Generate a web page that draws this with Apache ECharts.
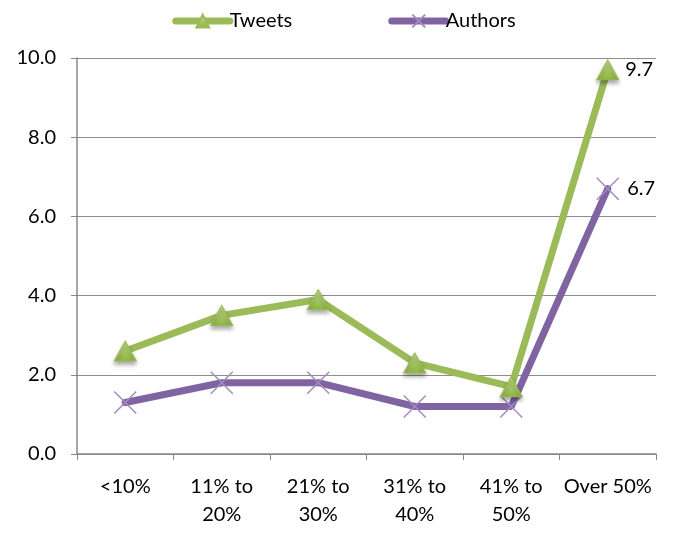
<!DOCTYPE html>
<html>
<head>
<meta charset="utf-8">
<script src="https://cdn.jsdelivr.net/npm/echarts@6/dist/echarts.min.js"></script>
<style>html,body{margin:0;padding:0;background:#fff;}#c{width:688px;height:533px;}</style>
</head>
<body>
<div id="c"></div>
<script>
var categories = ['<10%', '11% to\n20%', '21% to\n30%', '31% to\n40%', '41% to\n50%', 'Over 50%'];
var tweets = [2.6, 3.5, 3.9, 2.3, 1.7, 9.7];
var authors = [1.3, 1.8, 1.8, 1.2, 1.2, 6.7];
var yTicks = { min: 0, max: 10, interval: 2 };

var FONT = 'Lato, "Open Sans", sans-serif';
var chart = echarts.init(document.getElementById('c'));
var crossPath = 'path://M0,0L10,10M10,0L0,10';

function lastLabel(arr) {
  return arr.map(function (v, i) {
    if (i === arr.length - 1) {
      return { value: v, label: { show: true, position: 'right', distance: 6, formatter: function (p) { return p.value.toFixed(1); }, fontSize: 20, color: '#000', fontFamily: FONT } };
    }
    return v;
  });
}

chart.setOption({
  animation: false,
  legend: {
    top: 6,
    left: 'center',
    itemGap: 96,
    itemWidth: 54,
    itemHeight: 16,
    lineStyle: { width: 7, cap: 'round' },
    textStyle: { fontSize: 20, color: '#000', fontFamily: FONT, padding: [0, 0, 0, -5] },
    data: ['Tweets', 'Authors']
  },
  grid: { left: 77, right: 32, top: 58, bottom: 79 },
  xAxis: {
    type: 'category',
    data: categories,
    boundaryGap: true,
    axisLine: { lineStyle: { color: '#888', width: 1.5 } },
    axisTick: { show: true, length: 6, lineStyle: { color: '#888' } },
    axisLabel: { fontSize: 20, color: '#000', fontFamily: FONT, margin: 19, lineHeight: 28, interval: 0 },
    splitLine: { show: false }
  },
  yAxis: {
    type: 'value',
    min: yTicks.min, max: yTicks.max, interval: yTicks.interval,
    axisLine: { show: true, lineStyle: { color: '#888', width: 1.5 } },
    axisTick: { show: true, length: 6, lineStyle: { color: '#888' } },
    axisLabel: { fontSize: 20, color: '#000', fontFamily: FONT, margin: 21, formatter: function (v) { return v.toFixed(1); } },
    splitLine: { lineStyle: { color: '#8c8c8c', width: 1.2 } }
  },
  series: [
    {
      name: 'Tweets',
      type: 'line',
      data: lastLabel(tweets),
      symbol: 'triangle',
      symbolSize: [22, 20],
      lineStyle: { color: '#9BBB59', width: 7, cap: 'round' },
      itemStyle: {
        color: new echarts.graphic.LinearGradient(0, 0, 0, 1, [{ offset: 0, color: '#c5dd8e' }, { offset: 1, color: '#8db441' }]),
        borderColor: '#9BBB59', borderWidth: 1,
        shadowColor: 'rgba(0,0,0,0.35)', shadowBlur: 4, shadowOffsetY: 3
      },
      z: 3
    },
    {
      name: 'Authors',
      type: 'line',
      data: lastLabel(authors),
      symbol: crossPath,
      symbolSize: 22,
      lineStyle: { color: '#8064A2', width: 7, cap: 'round' },
      itemStyle: { color: 'none', borderColor: '#a08cc0', borderWidth: 1.5 },
      z: 2
    }
  ]
});
</script>
</body>
</html>
